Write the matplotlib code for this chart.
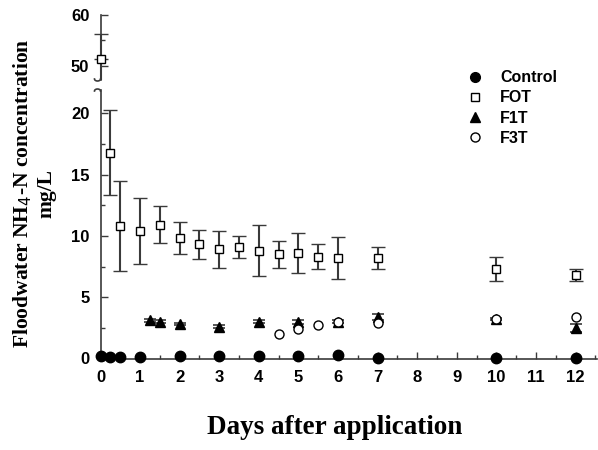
import numpy as np
import matplotlib
matplotlib.use("Agg")
import matplotlib.pyplot as plt
from matplotlib.lines import Line2D

# ---- data ----
ctrl_days = [0, 0.25, 0.5, 1, 2, 3, 4, 5, 6, 7, 10, 12]
ctrl_vals = [0.2, 0.15, 0.1, 0.15, 0.2, 0.2, 0.2, 0.2, 0.25, 0.05, 0.05, 0.05]

fot_days = [0, 0.25, 0.5, 1, 1.5, 2, 2.5, 3, 3.5, 4, 4.5, 5, 5.5, 6, 7, 10, 12]
fot_vals = [51.3, 16.8, 10.8, 10.4, 10.9, 9.8, 9.3, 8.9, 9.1, 8.8, 8.5, 8.6, 8.3, 8.2, 8.2, 7.3, 6.8]
fot_err = [5.0, 3.5, 3.7, 2.7, 1.5, 1.3, 1.2, 1.5, 0.9, 2.1, 1.1, 1.6, 1.0, 1.7, 0.9, 1.0, 0.5]

f1t_days = [1.25, 1.5, 2, 3, 4, 5, 6, 7, 10, 12]
f1t_vals = [3.1, 3.0, 2.8, 2.6, 3.0, 3.0, 3.0, 3.4, 3.2, 2.5]
f1t_err = [0.1, 0.1, 0.1, 0.1, 0.1, 0.15, 0.1, 0.25, 0.1, 0.35]

f3t_days = [4.5, 5, 5.5, 6, 7, 10, 12]
f3t_vals = [2.0, 2.4, 2.7, 3.0, 2.9, 3.2, 3.4]

series_labels = ["Control", "FOT", "F1T", "F3T"]
x_ticks = list(range(0, 13))
y_ticks_low = [0, 5, 10, 15, 20]
y_ticks_up = [50, 60]

# ---- figure ----
W, H = 598, 450
fig = plt.figure(figsize=(W / 100, H / 100), dpi=100)
L = 100.5 / W
R = 597 / W
ax = fig.add_axes([L, (H - 358.5) / H, R - L, (358.5 - 90) / H])
axu = fig.add_axes([L, (H - 80) / H, R - L, (80 - 15) / H], sharex=ax)

spine_c = "#3a3a3a"
err_c = "#3a3a3a"
tickfont = dict(family="Liberation Sans", weight="bold", size=12)

for a in (ax, axu):
    for s in ["top", "right"]:
        a.spines[s].set_visible(False)
    a.spines["left"].set_color(spine_c)
    a.spines["left"].set_linewidth(1.2)
    a.spines["bottom"].set_color(spine_c)
    a.spines["bottom"].set_linewidth(1.2)
axu.spines["bottom"].set_visible(False)

# lower panel
ax.errorbar(fot_days[1:], fot_vals[1:], yerr=fot_err[1:], fmt="s", ms=6,
            mfc="white", mec="black", mew=1.0, ecolor=err_c, elinewidth=1.5,
            capsize=5, capthick=1.5, zorder=3, clip_on=False)
ax.errorbar(f1t_days, f1t_vals, yerr=f1t_err, fmt="^", ms=7,
            mfc="black", mec="black", ecolor=err_c, elinewidth=1.2,
            capsize=4, capthick=1.2, zorder=4, clip_on=False)
ax.plot(f3t_days, f3t_vals, "o", ms=6.5, mfc="white", mec="black", mew=1.0,
        zorder=5, clip_on=False)
ax.plot(ctrl_days, ctrl_vals, "o", ms=7.5, mfc="black", mec="black",
        zorder=6, clip_on=False)

ax.set_xlim(0, 12.54)
ax.set_ylim(0, 21.9)
ax.set_xticks(x_ticks)
ax.set_xticks(np.arange(0.5, 12.6, 1.0), minor=True)
ax.set_yticks(y_ticks_low)
ax.set_yticks(np.arange(2.5, 21, 5), minor=True)
ax.set_xticklabels([str(t) for t in x_ticks], fontdict=tickfont)
ax.set_yticklabels([str(t) for t in y_ticks_low], fontdict=tickfont)
ax.tick_params(axis="both", which="major", direction="in", length=5,
               width=1.0, color=spine_c, pad=8)
ax.tick_params(axis="both", which="minor", direction="in", length=3,
               width=1.0, color=spine_c)

# upper panel: upper error with cap, lower part runs down to the break
axu.errorbar(fot_days[:1], fot_vals[:1], yerr=[[0], fot_err[:1]], fmt="s", ms=6,
             mfc="white", mec="black", mew=1.0, ecolor=err_c, elinewidth=1.5,
             capsize=5, capthick=1.5, zorder=3, clip_on=False)
axu.set_ylim(47.2, 60)
axu.vlines(fot_days[:1], axu.get_ylim()[0], fot_vals[:1], color=err_c, lw=1.5,
           zorder=2, clip_on=False)
axu.set_yticks(y_ticks_up)
axu.set_yticks([55], minor=True)
axu.set_yticklabels([str(t) for t in y_ticks_up], fontdict=tickfont)
axu.tick_params(axis="x", which="both", bottom=False, labelbottom=False)
axu.tick_params(axis="y", which="major", direction="in", length=5,
                width=1.0, color=spine_c, pad=8)
axu.tick_params(axis="y", which="minor", direction="in", length=3,
                width=1.0, color=spine_c)

# break marks (small hooks on the left spine)
t = np.linspace(0, np.pi, 20)
x0 = 100.5
xs = x0 - 3 + 3 * np.cos(t)
ys = 79 + 2 * np.sin(t)
fig.add_artist(Line2D([x / W for x in xs], [1 - y / H for y in ys], color=spine_c, lw=1.2))
xs2 = x0 - 3 + 3 * np.cos(t)
ys2 = 91 - 2 * np.sin(t)
fig.add_artist(Line2D([x / W for x in xs2], [1 - y / H for y in ys2], color=spine_c, lw=1.2))

# legend
handles = [
    Line2D([], [], ls="none", marker="o", ms=7, mfc="black", mec="black"),
    Line2D([], [], ls="none", marker="s", ms=6, mfc="white", mec="black"),
    Line2D([], [], ls="none", marker="^", ms=7, mfc="black", mec="black"),
    Line2D([], [], ls="none", marker="o", ms=6.5, mfc="white", mec="black"),
]
fig.legend(handles, series_labels, loc="upper left",
           bbox_to_anchor=(457 / W, 1 - 64 / H), frameon=False,
           prop=dict(family="Liberation Sans", weight="bold", size=11.5),
           handletextpad=0.8, labelspacing=0.32, handlelength=1.5,
           borderaxespad=0)

# labels
fig.text(335 / W, 1 - 427 / H, "Days after application",
         ha="center", va="center", family="Liberation Serif",
         weight="bold", size=19.5)
fig.text(34 / W, 1 - 193 / H, "Floodwater NH$_4$-N concentration\nmg/L",
         ha="center", va="center", rotation=90, family="Liberation Serif",
         weight="bold", size=15.5, linespacing=1.15, multialignment="center")

fig.savefig("out.png", dpi=100)
